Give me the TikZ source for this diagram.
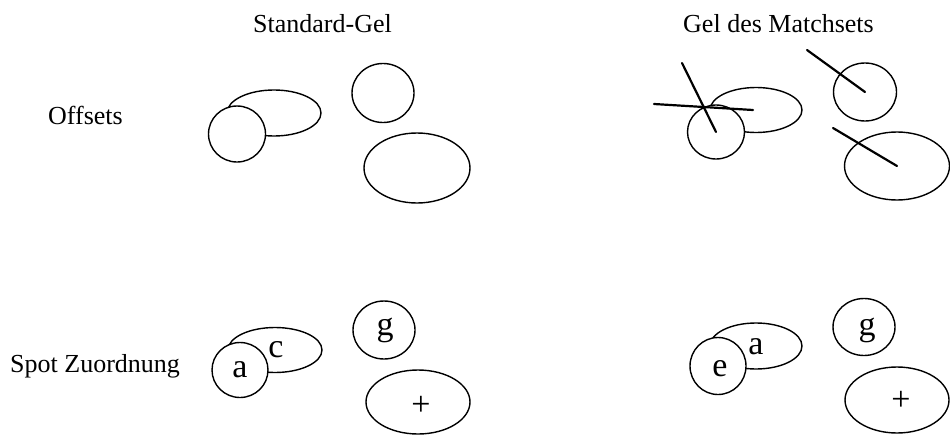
\documentclass[tikz,border=0pt]{standalone}
\usepackage{fontspec}
\setmainfont{Liberation Serif}
\usetikzlibrary{shapes.geometric}
\begin{document}
\begin{tikzpicture}[x=1pt,y=-1pt,
  spot/.style={draw=black, line width=1.4pt, fill=white, ellipse, inner sep=0pt},
  marker/.style={line width=2.2pt, line cap=round},
  lbl/.style={font=\fontsize{26}{28}\selectfont, inner sep=0pt, anchor=base west},
  spotlbl/.style={font=\fontsize{34}{36}\selectfont, inner sep=0pt}]
\useasboundingbox (0,0) rectangle (950,436);
% headings
\node[lbl] (h1) at (253,33) {Standard-Gel};
\node[lbl] (h2) at (683,33) {Gel des Matchsets};
\node[lbl] (r1) at (48,124) {Offsets};
\node[lbl] (r2) at (10,372) {Spot Zuordnung};
% top left
\node[spot, minimum width=94, minimum height=46] (tl1) at (274,113) {};
\node[spot, minimum width=57, minimum height=56] (tl2) at (237,134) {};
\node[spot, minimum width=62, minimum height=59] (tl3) at (383,93) {};
\node[spot, minimum width=106, minimum height=70] (tl4) at (417,168) {};
% top right
\node[spot, minimum width=92, minimum height=45] (tr1) at (756,110) {};
\node[spot, minimum width=57, minimum height=54] (tr2) at (716,132) {};
\node[spot, minimum width=63, minimum height=58] (tr3) at (865,92) {};
\node[spot, minimum width=105, minimum height=68] (tr4) at (897,166) {};
\coordinate (m1) at (682,63);
\coordinate (m2) at (654,104);
\coordinate (m3) at (807,50);
\coordinate (m4) at (833,128);
\coordinate (m2e) at (753,110);
\draw[marker] (m1) -- (tr2.center);
\draw[marker] (m2) -- (m2e);
\draw[marker] (m3) -- (tr3.center);
\draw[marker] (m4) -- (tr4.center);
% bottom left
\node[spot, minimum width=94, minimum height=45] (bl1) at (275,350) {};
\node[spot, minimum width=56, minimum height=55] (bl2) at (240,370) {};
\node[spot, minimum width=62, minimum height=58] (bl3) at (384,330) {};
\node[spot, minimum width=104, minimum height=64] (bl4) at (418,402) {};
\node[spotlbl] (bla) at (240,370) {a};
\node[spotlbl] (blc) at (276,350) {c};
\node[spotlbl] (blg) at (385,330) {g};
\node[spotlbl] (blp) at (421,406) {+};
% bottom right
\node[spot, minimum width=92, minimum height=46] (br1) at (756,346) {};
\node[spot, minimum width=56, minimum height=57] (br2) at (718,366) {};
\node[spot, minimum width=62, minimum height=57] (br3) at (864,327) {};
\node[spot, minimum width=104, minimum height=66] (br4) at (897,400) {};
\node[spotlbl] (bre) at (720,369) {e};
\node[spotlbl] (bra) at (756,347) {a};
\node[spotlbl] (brg) at (867,330) {g};
\node[spotlbl] (brp) at (901,401) {+};
\end{tikzpicture}
\end{document}
